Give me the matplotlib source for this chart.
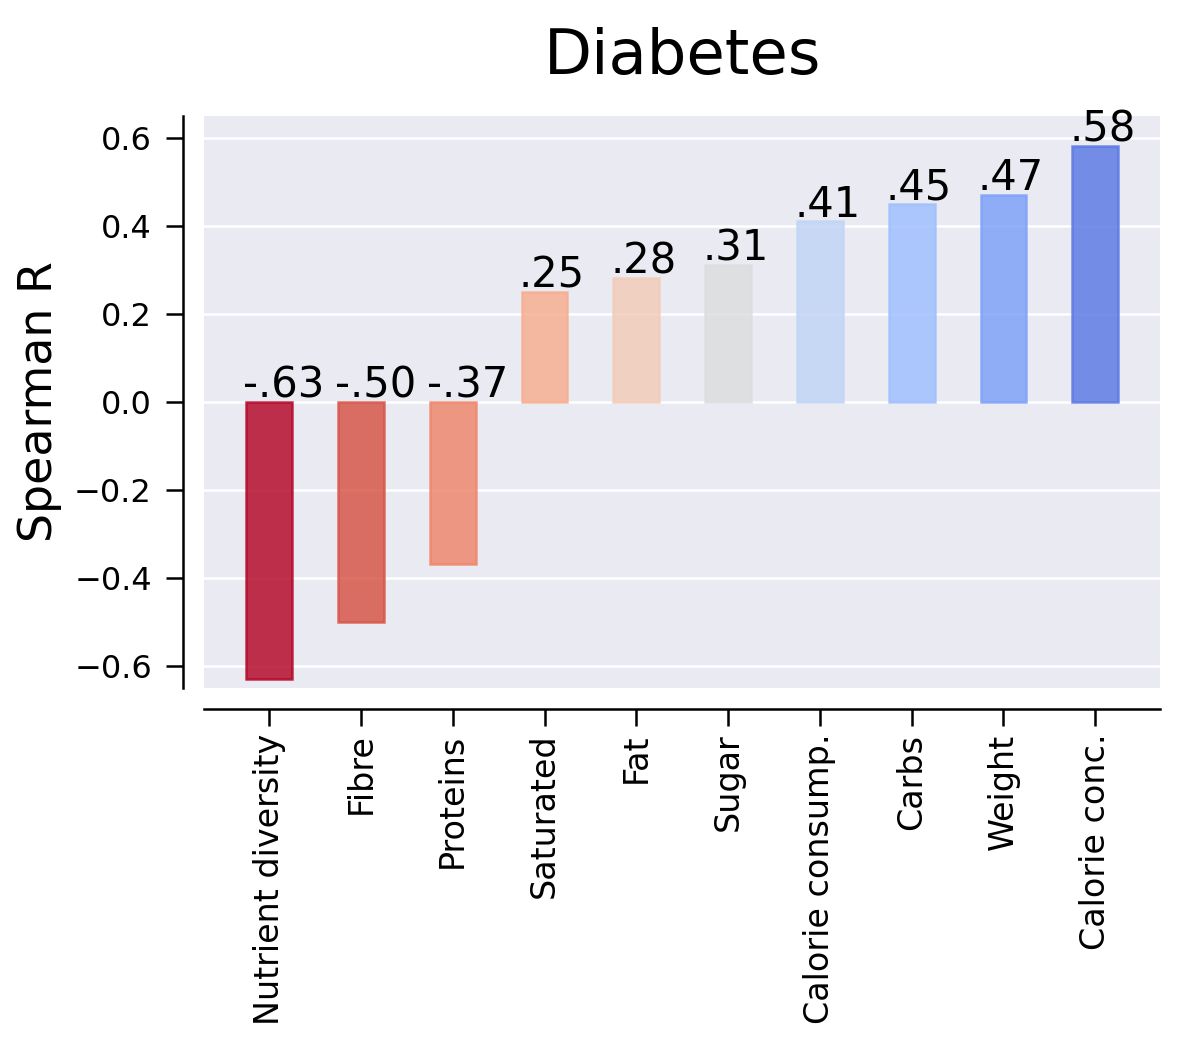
import matplotlib
matplotlib.use("Agg")
import matplotlib.pyplot as plt
import seaborn as sns
import numpy as np

# ---------- data ----------
labels = ["Nutrient diversity", "Fibre", "Proteins", "Saturated", "Fat",
          "Sugar", "Calorie consump.", "Carbs", "Weight", "Calorie conc."]
values = [-0.63, -0.50, -0.37, 0.25, 0.28, 0.31, 0.41, 0.45, 0.47, 0.58]
title = "Diabetes"


def fmt(v):
    s = f"{v:.2f}"
    return s.replace("0.", ".")


sns.set_style("darkgrid", {"axes.edgecolor": "black", "xtick.bottom": True,
                           "ytick.left": True, "xtick.color": "black",
                           "ytick.color": "black", "text.color": "black",
                           "axes.labelcolor": "black"})
plt.rcParams["font.family"] = ["DejaVu Sans"]

fig, ax = plt.subplots(figsize=(4, 3.5), dpi=300)
fig.subplots_adjust(left=0.17, right=0.967, top=0.89, bottom=0.345)

# colour by rank: coolwarm reversed, from the red end down to 0.1
cmap = plt.get_cmap("coolwarm_r")
colors = [cmap(i / len(values)) for i in range(len(values))]
x = np.arange(len(values))

# despine first: moving spines resets the tick labels
sns.despine(ax=ax, offset=5)

ax.bar(x, values, width=0.5, color=colors, edgecolor=colors, alpha=0.82,
       linewidth=0.6, zorder=2)

for xi, v in zip(x, values):
    ax.text(xi - 0.28, max(v, 0) + 0.01, fmt(v), ha="left", va="baseline",
            fontsize=10, color="black")

ax.set_xticks(x)
ax.set_xticklabels(labels, rotation=90, fontsize=8)
ax.tick_params(axis="y", labelsize=7.7, length=4, width=0.6)
ax.tick_params(axis="x", length=4, width=0.6, pad=2)
ax.set_xlim(-0.71, 9.71)
ax.set_ylim(-0.65, 0.65)
ax.set_yticks([-0.6, -0.4, -0.2, 0.0, 0.2, 0.4, 0.6])
ax.grid(axis="x", visible=False)
ax.grid(axis="y", color="white", linewidth=0.6)
ax.set_ylabel("Spearman R", fontsize=11, labelpad=3)
ax.set_title(title, fontsize=15, pad=10, color="black")

for s in ["left", "bottom"]:
    ax.spines[s].set_linewidth(0.6)
    ax.spines[s].set_color("black")

fig.savefig("out.png", dpi=300)
